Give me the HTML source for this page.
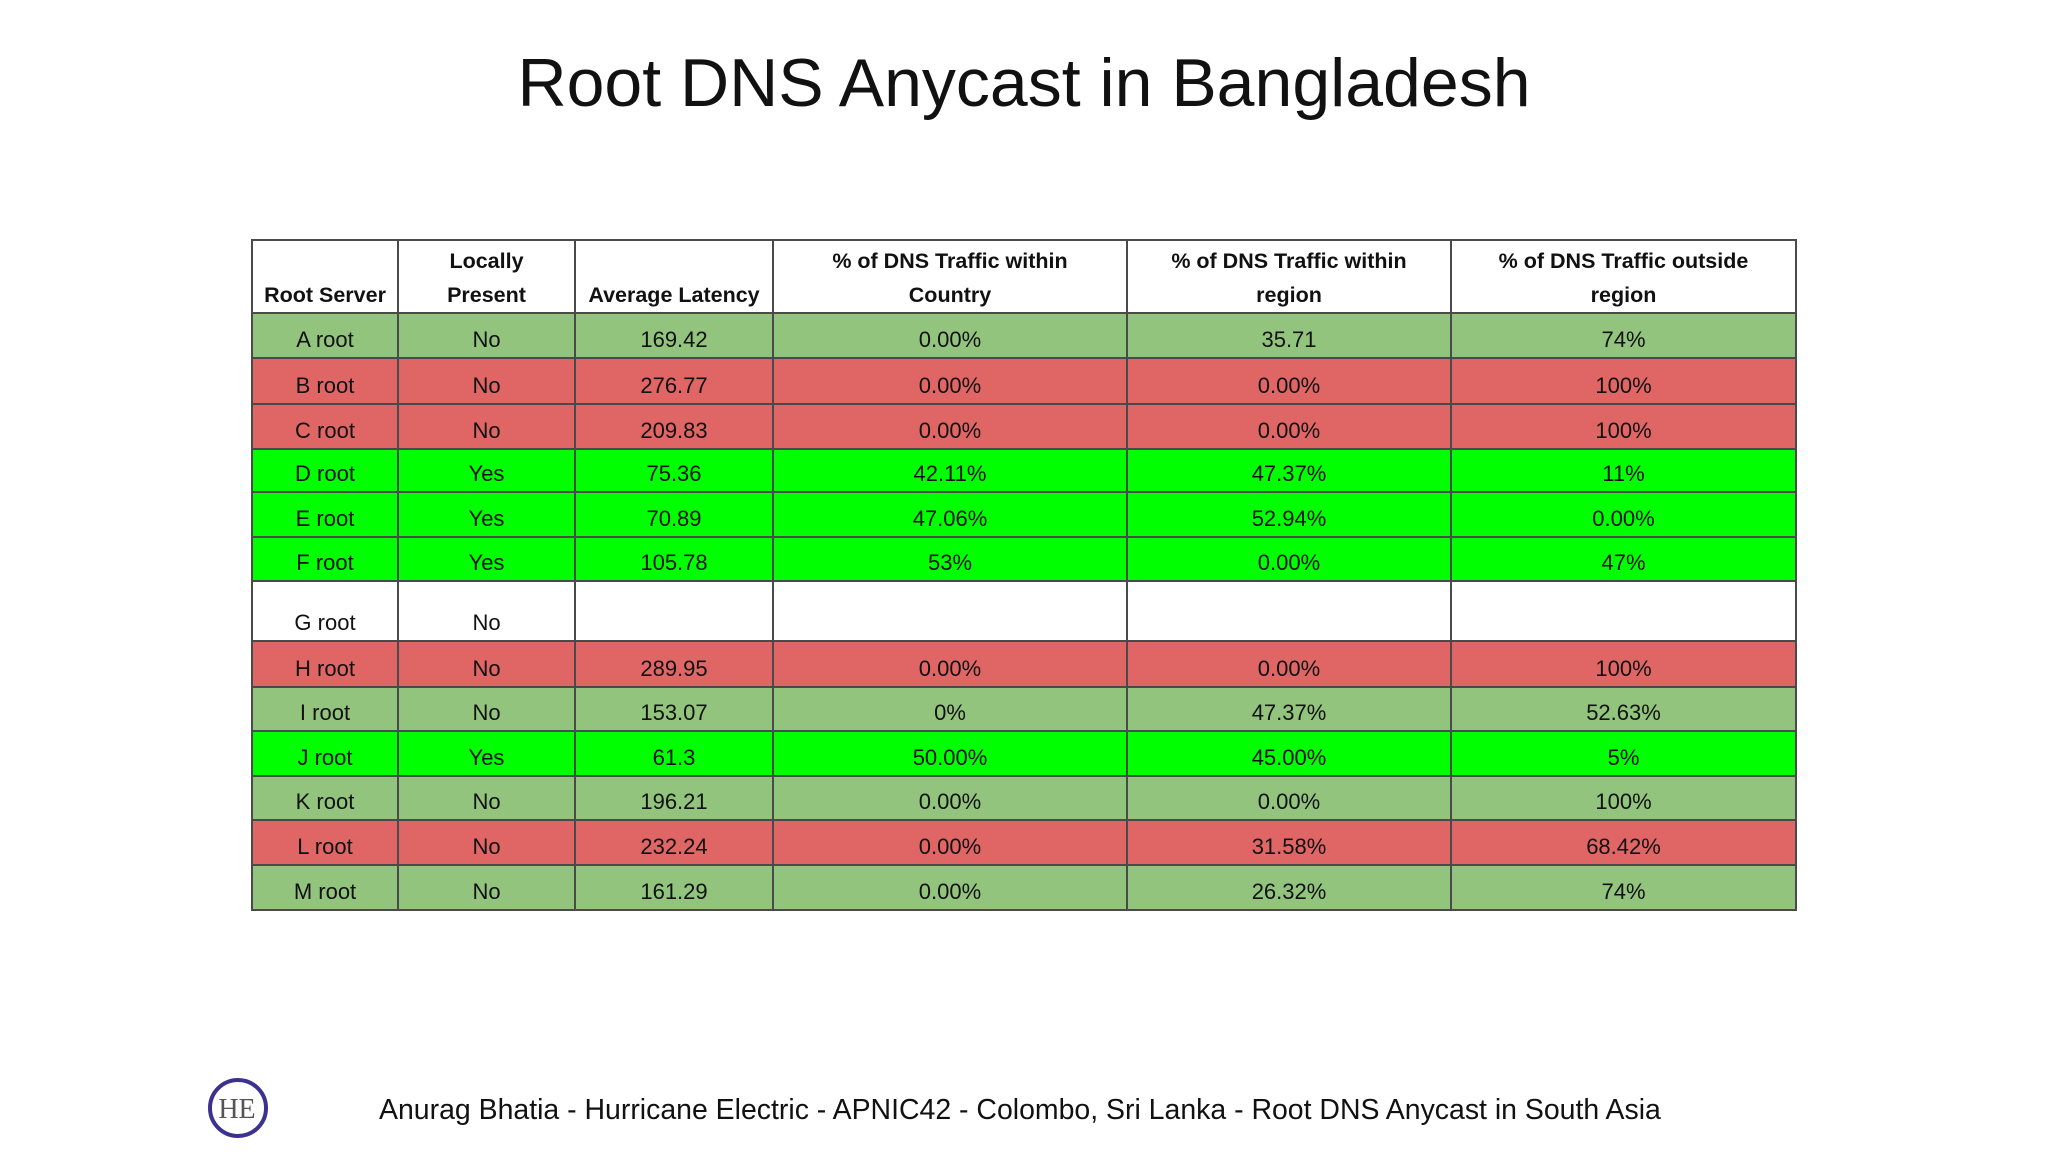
<!DOCTYPE html>
<html><head><meta charset="utf-8"><style>
body{margin:0;width:2048px;height:1152px;background:#fff;position:relative;overflow:hidden;font-family:"Liberation Sans",sans-serif;color:#111}
#title{position:absolute;left:0;width:2048px;top:44px;text-align:center;font-size:68px}
.c{position:absolute;box-sizing:border-box;border:2px solid #4a4a4a;display:flex;align-items:flex-end;justify-content:center;text-align:center;font-size:22px;padding-bottom:0px;line-height:34px}
.h{font-weight:bold;font-size:21.5px;padding-bottom:0px}
#footer{position:absolute;left:379px;top:1094px;font-size:28.45px;color:#111;white-space:nowrap}
</style></head><body>
<div id="title">Root DNS Anycast in Bangladesh</div>
<div id="table"></div>
<svg style="position:absolute;left:206px;top:1076px" width="64" height="64">
<circle cx="32" cy="32" r="28" fill="#fff" stroke="#3a3190" stroke-width="4"/>
<text x="31" y="42" text-anchor="middle" font-family="Liberation Serif,serif" font-size="28" fill="#555">HE</text>
</svg>
<div id="footer">Anurag Bhatia - Hurricane Electric - APNIC42 - Colombo, Sri Lanka - Root DNS Anycast in South Asia</div>
<script>
const colX=[252,398,575,773,1127,1451,1796];
const rowY=[240,313,358,404,449,492,537,581,641,687,731,776,820,865,910];
const headers=["Root Server","Locally<br>Present","Average Latency","% of DNS Traffic within<br>Country","% of DNS Traffic within<br>region","% of DNS Traffic outside<br>region"];
const servers=["A root","B root","C root","D root","E root","F root","G root","H root","I root","J root","K root","L root","M root"];
const local=["No","No","No","Yes","Yes","Yes","No","No","No","Yes","No","No","No"];
const latency=["169.42","276.77","209.83","75.36","70.89","105.78","","289.95","153.07","61.3","196.21","232.24","161.29"];
const inCountry=["0.00%","0.00%","0.00%","42.11%","47.06%","53%","","0.00%","0%","50.00%","0.00%","0.00%","0.00%"];
const inRegion=["35.71","0.00%","0.00%","47.37%","52.94%","0.00%","","0.00%","47.37%","45.00%","0.00%","31.58%","26.32%"];
const outRegion=["74%","100%","100%","11%","0.00%","47%","","100%","52.63%","5%","100%","68.42%","74%"];
const status=["m","r","r","g","g","g","w","r","m","g","m","r","m"];
const colors={m:"#93c47d",r:"#e06666",g:"#00ff00",w:"#ffffff"};
const t=document.getElementById('table');
function cell(x0,x1,y0,y1,html,bg,cls){
 const d=document.createElement('div');
 d.className='c '+(cls||'');
 d.style.left=(x0-1)+'px';d.style.top=(y0-1)+'px';
 d.style.width=(x1-x0+2)+'px';d.style.height=(y1-y0+2)+'px';
 d.style.background=bg;d.innerHTML=html;
 
 
 t.appendChild(d);
}
headers.forEach((h,i)=>cell(colX[i],colX[i+1],rowY[0],rowY[1],h,'#fff','h'));
servers.forEach((s,r)=>{
 const vals=[s,local[r],latency[r],inCountry[r],inRegion[r],outRegion[r]];
 vals.forEach((v,i)=>cell(colX[i],colX[i+1],rowY[r+1],rowY[r+2],v,colors[status[r]]));
});
</script>
</body></html>
